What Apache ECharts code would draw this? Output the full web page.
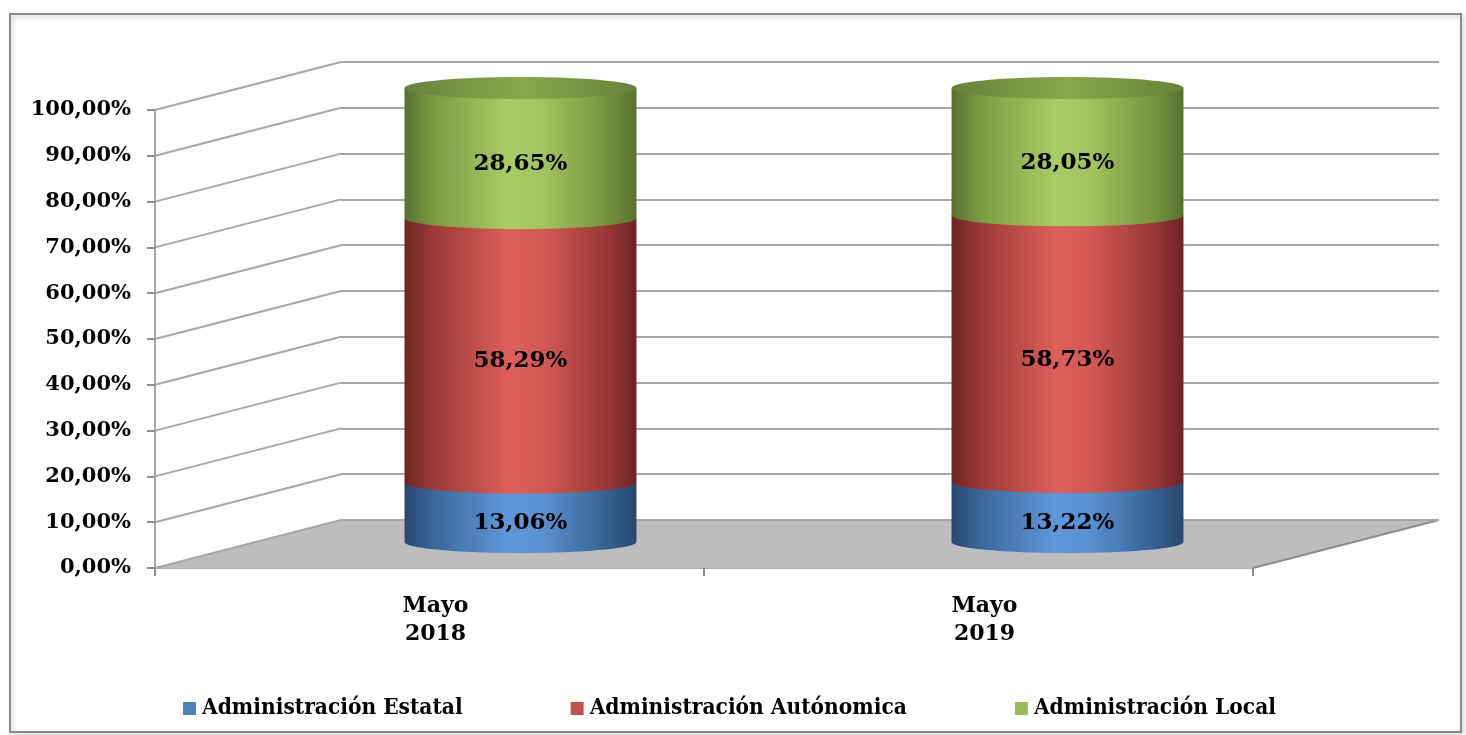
<!DOCTYPE html>
<html>
<head>
<meta charset="utf-8">
<script src="https://cdn.jsdelivr.net/npm/echarts@6/dist/echarts.min.js"></script>
<style>
html,body{margin:0;padding:0;background:#fff;}
#chart{width:1466px;height:735px;}
</style>
</head>
<body>
<div id="chart"></div>
<script>
// ---- data ----
const categories = ['Mayo\n2018', 'Mayo\n2019'];
const seriesNames = ['Administración Estatal', 'Administración Autónomica', 'Administración Local'];
const estatal = [13.06, 13.22];
const autonomica = [58.29, 58.73];
const local = [28.65, 28.05];
const yTicks = [0, 10, 20, 30, 40, 50, 60, 70, 80, 90, 100];

// ---- styling ----
const DX = 186, DY = 48;
const FONT = '"DejaVu Serif", serif';
function fmt(v) { return v.toFixed(2).replace('.', ',') + '%'; }

const styles = [
  { legend: '#4f81bd', stops: [[0,'#29476f'],[0.12,'#3a6699'],[0.45,'#5f98da'],[0.6,'#5990d0'],[0.88,'#355f8f'],[1,'#29476f']] },
  { legend: '#c0504d', stops: [[0,'#6c2523'],[0.12,'#9a3a37'],[0.45,'#dc5f5b'],[0.6,'#d35955'],[0.88,'#953734'],[1,'#6c2523']] },
  { legend: '#9bbb59', stops: [[0,'#58712f'],[0.12,'#7a9a42'],[0.45,'#a9cd65'],[0.6,'#a1c45e'],[0.88,'#75923e'],[1,'#58712f']] }
];
const topStops = [[0,'#66823a'],[0.5,'#87a84c'],[1,'#66823a']];

function grad(stops) {
  return new echarts.graphic.LinearGradient(0, 0, 1, 0, stops.map(s => ({offset: s[0], color: s[1]})));
}

const valueSets = [estatal, autonomica, local];
const bases = valueSets.map((vals, si) => vals.map((v, i) => {
  let b = 0; for (let k = 0; k < si; k++) b += valueSets[k][i]; return b;
}));

function ellipsePts(cx, cy, rx, ry, a0, a1, n) {
  const pts = [];
  for (let k = 0; k <= n; k++) {
    const a = a0 + (a1 - a0) * k / n;
    pts.push([cx + rx * Math.cos(a), cy + ry * Math.sin(a)]);
  }
  return pts;
}

function cylRender(si) {
  return function (params, api) {
    const cat = api.value(0), base = api.value(1), val = api.value(2);
    const cx = api.coord([cat, 0])[0];
    const band = api.size([1, 0])[0];
    const rx = band * 0.424 / 2;
    const ry = 11;
    const yB = api.coord([cat, base])[1];
    const yT = api.coord([cat, base + val])[1];
    const pts = [[cx - rx, yT]];
    ellipsePts(cx, yB, rx, ry, Math.PI, 0, 40).forEach(p => pts.push(p));
    pts.push([cx + rx, yT]);
    const children = [{
      type: 'polygon', shape: { points: pts },
      style: { fill: grad(styles[si].stops) }
    }];
    if (si === valueSets.length - 1) {
      children.push({
        type: 'polygon', shape: { points: ellipsePts(cx, yT, rx, ry, 0, Math.PI * 2, 60) },
        style: { fill: grad(topStops) }
      });
    }
    children.push({
      type: 'text', x: cx, y: (yB + yT) / 2 + 11,
      style: { text: fmt(val), fill: '#000', fontSize: 23, fontWeight: 'bold', fontFamily: FONT,
               align: 'center', verticalAlign: 'middle' }
    });
    return { type: 'group', children: children };
  };
}

function wallRender(params, api) {
  const v = api.value(1);
  const back = api.coord([0, v]);
  const front = [back[0] - DX, back[1] + DY];
  const children = [];
  if (v === 0) {
    const backR = api.coord([1, 0]);
    const frontR = [backR[0] - DX, backR[1] + DY];
    children.push({ type: 'polygon', shape: { points: [front, back, backR, frontR] },
      style: { fill: '#bdbdbd' } });
    children.push({ type: 'line', shape: { x1: frontR[0], y1: frontR[1], x2: backR[0], y2: backR[1] },
      style: { stroke: '#8c8c8c', lineWidth: 2 } });
    children.push({ type: 'line', shape: { x1: back[0], y1: back[1], x2: backR[0], y2: backR[1] },
      style: { stroke: '#a6a6a6', lineWidth: 2 } });
  }
  children.push({ type: 'line', shape: { x1: front[0], y1: front[1], x2: back[0], y2: back[1] },
    style: { stroke: '#a6a6a6', lineWidth: 2 } });
  return { type: 'group', children: children };
}

const chart = echarts.init(document.getElementById('chart'), null, { renderer: 'canvas' });

const series = [{
  type: 'custom', name: 'walls', xAxisIndex: 1, yAxisIndex: 1, z: 1, silent: true,
  data: yTicks.map(v => [0, v]), renderItem: wallRender, encode: { x: 0, y: 1 }
}];
valueSets.forEach((vals, si) => {
  series.push({
    type: 'custom', name: seriesNames[si], xAxisIndex: 2, yAxisIndex: 2, z: 5 + si,
    itemStyle: { color: styles[si].legend },
    data: vals.map((v, i) => [i, bases[si][i], v]),
    encode: { x: 0, y: [1, 2] },
    renderItem: cylRender(si)
  });
});

chart.setOption({
  animation: false,
  backgroundColor: '#fff',
  graphic: [{
    type: 'rect', shape: { x: 10, y: 14, width: 1451, height: 718 },
    style: { fill: 'none', stroke: '#8a8a8a', lineWidth: 2, shadowBlur: 4, shadowColor: 'rgba(0,0,0,0.25)', shadowOffsetX: 2, shadowOffsetY: 2 },
    z: -10, silent: true
  }],
  grid: [
    { left: 155, top: 110, width: 1098, height: 458 },
    { left: 341, top: 62, width: 1098, height: 458 },
    { left: 247, top: 88, width: 1094, height: 454 }
  ],
  xAxis: [
    { gridIndex: 0, type: 'category', data: categories, boundaryGap: true,
      axisLine: { show: true, lineStyle: { color: '#b0b0b0', width: 2 } },
      axisTick: { show: true, length: 8, inside: false, lineStyle: { color: '#8c8c8c', width: 2 } },
      axisLabel: { color: '#000', fontSize: 22, fontWeight: 'bold', fontFamily: FONT, lineHeight: 28, margin: 24, padding: [0, 0, 0, 12] },
      splitLine: { show: false } },
    { gridIndex: 1, type: 'value', min: 0, max: 1, show: false },
    { gridIndex: 2, type: 'category', data: categories, show: false }
  ],
  yAxis: [
    { gridIndex: 0, type: 'value', min: 0, max: 100, interval: 10,
      axisLine: { show: true, lineStyle: { color: '#a6a6a6', width: 2 } },
      axisTick: { show: true, length: 8, lineStyle: { color: '#8c8c8c', width: 2 } },
      axisLabel: { color: '#000', fontSize: 21, fontWeight: 'bold', fontFamily: FONT, margin: 24, formatter: fmt },
      splitLine: { show: false } },
    { gridIndex: 1, type: 'value', min: 0, max: 100, interval: 10,
      axisLine: { show: false }, axisTick: { show: false }, axisLabel: { show: false },
      splitLine: { show: true, lineStyle: { color: '#a6a6a6', width: 2 } } },
    { gridIndex: 2, type: 'value', min: 0, max: 100, show: false }
  ],
  legend: {
    data: seriesNames.map((n, i) => ({ name: n, itemStyle: { color: styles[i].legend } })),
    left: 178, top: 692, icon: 'rect', itemWidth: 13, itemHeight: 13, itemGap: 108,
    textStyle: { color: '#000', fontSize: 22.5, fontWeight: 'bold', fontFamily: '"DejaVu Serif Condensed", ' + FONT, padding: [0, 0, 0, 1] },
    selectedMode: false
  },
  series: series
});
</script>
</body>
</html>
